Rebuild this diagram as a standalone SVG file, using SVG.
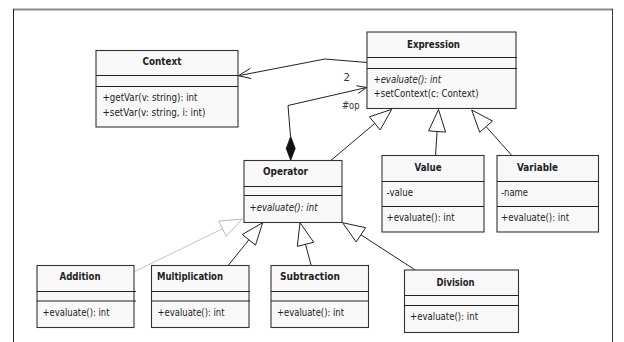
<svg xmlns="http://www.w3.org/2000/svg" width="624" height="342" viewBox="0 0 624 342">
<style>
.bg{fill:#ffffff}
.box{fill:#f8f8f8;stroke:#333;stroke-width:1.1}
.sep{stroke:#222;stroke-width:1}
.t{font-family:"DejaVu Sans","Liberation Sans",sans-serif;font-size:11px;fill:#222}
.b{font-weight:bold}
.i{font-style:italic}
.edge{fill:none;stroke:#222;stroke-width:1}
.light{fill:none;stroke:#c4c4c4;stroke-width:1}
.tri{fill:#ffffff;stroke:#222;stroke-width:1}
.trilight{fill:#ffffff;stroke:#b8b8b8;stroke-width:1}
.lbl{font-family:"DejaVu Sans","Liberation Sans",sans-serif;font-size:11px;fill:#333}
</style>
<rect class="bg" x="0" y="0" width="624" height="342"/>
<g id="frame">
<line x1="13" y1="9.5" x2="613" y2="9.5" stroke="#8a8a8a" stroke-width="2"/>
<line x1="13.5" y1="9" x2="13.5" y2="342" stroke="#222" stroke-width="1"/>
<line x1="612.5" y1="9" x2="612.5" y2="342" stroke="#333" stroke-width="1"/>
</g>
<g id="connectors">
<polyline class="edge" points="367,62.5 325,59 238.5,75.7"/>
<polyline class="edge" points="250.3,68.3 238.5,75.7 251.3,78.6"/>
<text class="lbl" x="343.5" y="80.5" textLength="6.5" lengthAdjust="spacingAndGlyphs">2</text>
<polyline class="edge" points="290.5,136.5 288,105.5 366.5,87.5"/>
<polyline class="edge" points="356.4,85.7 366.5,87.5 358.1,93.5"/>
<polygon fill="#111" stroke="#111" stroke-width="0.8" points="290.7,136.5 295.2,148.4 290.7,160.3 286.2,148.4"/>
<text class="lbl" x="342" y="109" textLength="17.5" lengthAdjust="spacingAndGlyphs">#op</text>
<line class="edge" x1="331" y1="160.3" x2="374.8" y2="123.4"/>
<polygon class="tri" points="391.7,109.3 369.4,116.9 380.2,129.9"/>
<line class="edge" x1="437.1" y1="131.5" x2="435.5" y2="155.7"/>
<polygon class="tri" points="438.5,109.5 428.6,130.9 445.6,132.1"/>
<line class="edge" x1="486.1" y1="126.6" x2="512" y2="155.7"/>
<polygon class="tri" points="471.7,110 492.5,121 479.7,132.2"/>
<line class="light" x1="222.5" y1="228.7" x2="134.5" y2="271.7"/>
<polygon class="trilight" points="242.3,219 226.2,236.3 218.8,221.1"/>
<line class="edge" x1="248.9" y1="239.8" x2="228" y2="265.7"/>
<polygon class="tri" points="262.7,222.7 255.5,245.1 242.3,234.5"/>
<line class="edge" x1="305.5" y1="244.3" x2="311.2" y2="265.7"/>
<polygon class="tri" points="300,222.7 313.7,242.2 297.3,246.4"/>
<line class="edge" x1="360.9" y1="234.8" x2="415.2" y2="270"/>
<polygon class="tri" points="342.5,222.7 365.6,227.7 356.2,241.9"/>
</g>
<g id="Context">
<rect class="box" x="96" y="50.5" width="142" height="76.5"/>
<line class="sep" x1="96" y1="75.5" x2="238" y2="75.5"/>
<line class="sep" x1="96" y1="86.5" x2="238" y2="86.5"/>
<text class="t b" x="142.5" y="64.5" textLength="39" lengthAdjust="spacingAndGlyphs">Context</text>
<text class="t" x="102.5" y="100.5" textLength="95" lengthAdjust="spacingAndGlyphs">+getVar(v: string): int</text>
<text class="t" x="102.5" y="115.5" textLength="103" lengthAdjust="spacingAndGlyphs">+setVar(v: string, i: int)</text>
</g>
<g id="Expression">
<rect class="box" x="367" y="32" width="149" height="76.5"/>
<line class="sep" x1="367" y1="57.5" x2="517" y2="57.5"/>
<line class="sep" x1="367" y1="68.5" x2="517" y2="68.5"/>
<text class="t b" x="407" y="48" textLength="53" lengthAdjust="spacingAndGlyphs">Expression</text>
<text class="t i" x="373.5" y="82.5" textLength="67.5" lengthAdjust="spacingAndGlyphs">+evaluate(): int</text>
<text class="t" x="373.5" y="96.5" textLength="105" lengthAdjust="spacingAndGlyphs">+setContext(c: Context)</text>
</g>
<g id="Operator">
<rect class="box" x="244" y="160.5" width="98" height="62"/>
<line class="sep" x1="244" y1="186.5" x2="342" y2="186.5"/>
<line class="sep" x1="244" y1="195.5" x2="342" y2="195.5"/>
<text class="t b" x="263" y="174.5" textLength="45" lengthAdjust="spacingAndGlyphs">Operator</text>
<text class="t i" x="249.5" y="210.5" textLength="68" lengthAdjust="spacingAndGlyphs">+evaluate(): int</text>
</g>
<g id="Value">
<rect class="box" x="382" y="155.5" width="102" height="76.5"/>
<line class="sep" x1="382" y1="181.5" x2="484" y2="181.5"/>
<line class="sep" x1="382" y1="206.5" x2="484" y2="206.5"/>
<text class="t b" x="414.5" y="170.5" textLength="27" lengthAdjust="spacingAndGlyphs">Value</text>
<text class="t" x="386.5" y="195.5" textLength="26.5" lengthAdjust="spacingAndGlyphs">-value</text>
<text class="t" x="386.5" y="220.5" textLength="68" lengthAdjust="spacingAndGlyphs">+evaluate(): int</text>
</g>
<g id="Variable">
<rect class="box" x="497" y="155.5" width="101.5" height="76.5"/>
<line class="sep" x1="497" y1="181.5" x2="598.5" y2="181.5"/>
<line class="sep" x1="497" y1="206.5" x2="598.5" y2="206.5"/>
<text class="t b" x="517" y="170.5" textLength="41" lengthAdjust="spacingAndGlyphs">Variable</text>
<text class="t" x="501" y="195.5" textLength="27" lengthAdjust="spacingAndGlyphs">-name</text>
<text class="t" x="501" y="220.5" textLength="68" lengthAdjust="spacingAndGlyphs">+evaluate(): int</text>
</g>
<g id="Addition">
<rect class="box" x="37" y="265.5" width="97" height="62"/>
<line class="sep" x1="37" y1="291.5" x2="136" y2="291.5"/>
<line class="sep" x1="37" y1="301" x2="136" y2="301"/>
<text class="t b" x="59.5" y="279.5" textLength="41" lengthAdjust="spacingAndGlyphs">Addition</text>
<text class="t" x="42.5" y="315.5" textLength="67" lengthAdjust="spacingAndGlyphs">+evaluate(): int</text>
</g>
<g id="Multiplication">
<rect class="box" x="151.5" y="265.5" width="97.5" height="62"/>
<line class="sep" x1="151.5" y1="291.5" x2="250" y2="291.5"/>
<line class="sep" x1="151.5" y1="301" x2="250" y2="301"/>
<text class="t b" x="157" y="279.5" textLength="66" lengthAdjust="spacingAndGlyphs">Multiplication</text>
<text class="t" x="157.5" y="315.5" textLength="67" lengthAdjust="spacingAndGlyphs">+evaluate(): int</text>
</g>
<g id="Subtraction">
<rect class="box" x="271" y="265.5" width="97.5" height="62"/>
<line class="sep" x1="271" y1="291.5" x2="368.5" y2="291.5"/>
<line class="sep" x1="271" y1="301" x2="368.5" y2="301"/>
<text class="t b" x="280" y="279.5" textLength="60" lengthAdjust="spacingAndGlyphs">Subtraction</text>
<text class="t" x="277" y="315.5" textLength="67" lengthAdjust="spacingAndGlyphs">+evaluate(): int</text>
</g>
<g id="Division">
<rect class="box" x="404.5" y="270" width="114" height="62.5"/>
<line class="sep" x1="404.5" y1="295.5" x2="518.5" y2="295.5"/>
<line class="sep" x1="404.5" y1="305.5" x2="518.5" y2="305.5"/>
<text class="t b" x="436.5" y="285.5" textLength="38" lengthAdjust="spacingAndGlyphs">Division</text>
<text class="t" x="410" y="320" textLength="68" lengthAdjust="spacingAndGlyphs">+evaluate(): int</text>
</g>
</svg>
